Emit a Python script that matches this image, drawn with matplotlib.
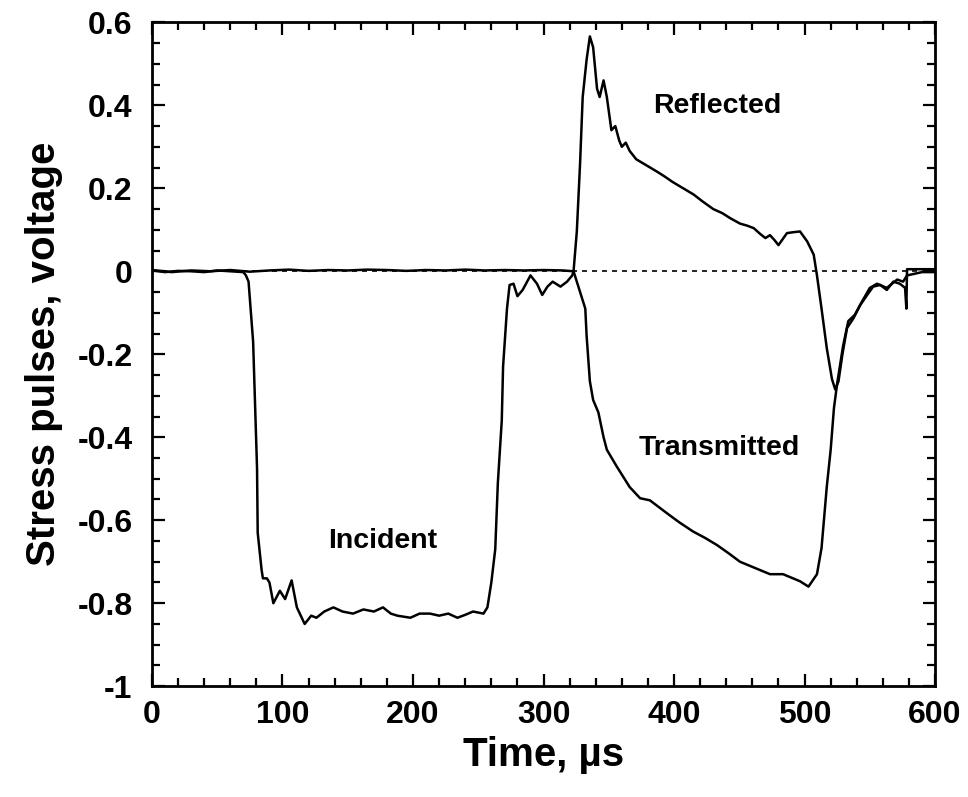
import matplotlib
matplotlib.use("Agg")
import matplotlib.pyplot as plt
from matplotlib.ticker import MultipleLocator, FuncFormatter

# ── Signals (time in µs, stress pulse in volts) ───────────────────────────────
# incident bar gauge: incident pulse followed by the reflected pulse
t_incident_bar = [
    0, 10, 20, 30, 40, 50, 60, 70, 72, 74,
    77.5, 80.5, 81, 84, 85, 88, 90, 93, 98, 102,
    107, 111, 117, 122, 126, 132, 139, 146, 154, 162,
    170, 177, 183, 188, 198, 205, 213, 220, 227, 234,
    240, 246, 254, 257, 260, 263, 265, 268, 269, 272,
    274, 277, 280, 284, 290, 295, 299, 303, 307, 313,
    318, 322, 323, 325.5, 328, 330, 333, 335.5, 338, 341,
    343, 346, 348.5, 352, 355, 358, 360, 363, 366, 371,
    379, 387, 393, 399, 407, 415, 422, 430, 437, 443,
    450.5, 456, 461, 466, 470, 473.5, 477, 480, 486.5, 491,
    496.5, 502, 507, 509.5, 513, 517, 521, 523.5, 526, 529,
    532.5, 537.5, 542.5, 548, 552.5, 558, 563, 568, 573, 577,
    578, 578.5, 590, 600,
]
v_incident_bar = [
    0.002, -0.002, 0.001, 0.0, -0.002, 0.002, 0.0, -0.002, -0.01, -0.025,
    -0.17, -0.475, -0.63, -0.72, -0.74, -0.74, -0.75, -0.80, -0.77, -0.79,
    -0.745, -0.81, -0.85, -0.83, -0.835, -0.82, -0.81, -0.82, -0.825, -0.815,
    -0.82, -0.81, -0.825, -0.83, -0.835, -0.825, -0.825, -0.83, -0.825, -0.835,
    -0.828, -0.82, -0.825, -0.81, -0.75, -0.67, -0.51, -0.36, -0.23, -0.09,
    -0.033, -0.03, -0.06, -0.045, -0.01, -0.03, -0.057, -0.037, -0.025, -0.037,
    -0.025, -0.01, 0.0, 0.096, 0.26, 0.42, 0.51, 0.566, 0.54, 0.44,
    0.42, 0.46, 0.42, 0.34, 0.35, 0.315, 0.30, 0.31, 0.29, 0.27,
    0.255, 0.24, 0.228, 0.215, 0.2, 0.185, 0.168, 0.15, 0.14, 0.128,
    0.115, 0.11, 0.104, 0.09, 0.08, 0.087, 0.075, 0.063, 0.092, 0.094,
    0.096, 0.072, 0.04, -0.01, -0.09, -0.185, -0.26, -0.285, -0.265, -0.2,
    -0.137, -0.113, -0.082, -0.057, -0.037, -0.033, -0.045, -0.025, -0.03, -0.04,
    -0.09, 0.005, 0.005, 0.005,
]

# transmitted bar gauge
t_transmitted = [
    0, 15, 30, 45, 60, 75, 90, 105, 120, 135,
    150, 165, 180, 195, 210, 225, 240, 255, 270, 285,
    300, 315, 323, 328, 332, 333, 335.5, 338, 342, 346,
    348.5, 356, 366, 374, 381.5, 394.5, 404, 414.5, 424, 433,
    442, 450.5, 462, 473.5, 483.5, 496.5, 503, 509.5, 513, 517,
    520, 522.5, 525, 529.5, 533.5, 538.5, 544, 550, 555.5, 563,
    571, 575.5, 578.5, 590, 600,
]
v_transmitted = [
    0.003, -0.002, 0.002, 0.0, 0.003, -0.001, 0.002, 0.004, 0.001, 0.003,
    0.002, 0.004, 0.003, 0.001, 0.003, 0.002, 0.004, 0.002, 0.003, 0.002,
    0.003, 0.002, 0.0, -0.05, -0.09, -0.155, -0.265, -0.31, -0.34, -0.40,
    -0.43, -0.47, -0.52, -0.547, -0.552, -0.583, -0.605, -0.627, -0.643, -0.66,
    -0.68, -0.70, -0.715, -0.73, -0.73, -0.747, -0.76, -0.73, -0.667, -0.52,
    -0.43, -0.33, -0.27, -0.18, -0.12, -0.105, -0.073, -0.04, -0.03, -0.04,
    -0.02, -0.025, -0.01, -0.002, -0.002,
]

# pulse names and where they are written (t, v)
pulse_names = ["Incident", "Reflected", "Transmitted"]
name_t = [177, 433, 435]
name_v = [-0.65, 0.398, -0.427]

# ── Figure ────────────────────────────────────────────────────────────────────
plt.rcParams["font.family"] = ["Liberation Sans", "DejaVu Sans"]
plt.rcParams["font.weight"] = "bold"

fig = plt.figure(figsize=(9.68, 7.97), dpi=100)
ax = fig.add_axes([0.157, 0.139, 0.809, 0.833])

ax.axhline(0, color="black", lw=1.2, ls=(0, (3, 3)), zorder=1)
ax.plot(t_incident_bar, v_incident_bar, color="black", lw=1.8, zorder=2)
ax.plot(t_transmitted, v_transmitted, color="black", lw=1.8, zorder=2)

for name, tx, vy in zip(pulse_names, name_t, name_v):
    ax.text(tx, vy, name, fontsize=20.5, fontweight="bold",
            ha="center", va="center")

ax.set_xlim(0, 600)
ax.set_ylim(-1, 0.6)
ax.xaxis.set_major_locator(MultipleLocator(100))
ax.xaxis.set_minor_locator(MultipleLocator(20))
ax.yaxis.set_major_locator(MultipleLocator(0.2))
ax.yaxis.set_minor_locator(MultipleLocator(0.05))

# plain labels: 0, 0.2, -1 ... with an ordinary hyphen for minus
def plain(v, _):
    return "0" if abs(v) < 1e-9 else f"{round(v, 6):g}"

ax.yaxis.set_major_formatter(FuncFormatter(plain))
ax.xaxis.set_major_formatter(FuncFormatter(plain))

ax.tick_params(which="both", direction="in", top=True, right=True,
               width=1.6, labelsize=23)
ax.tick_params(which="major", length=9)
ax.tick_params(which="minor", length=5.5)
ax.tick_params(axis="x", pad=10)
ax.tick_params(axis="y", pad=14)
for side in ax.spines.values():
    side.set_linewidth(2)

ax.set_xlabel("Time, µs", fontsize=29, fontweight="bold", labelpad=4)
ax.set_ylabel("Stress pulses, voltage", fontsize=29, fontweight="bold",
              labelpad=10)

fig.savefig("out.png", dpi=100)
